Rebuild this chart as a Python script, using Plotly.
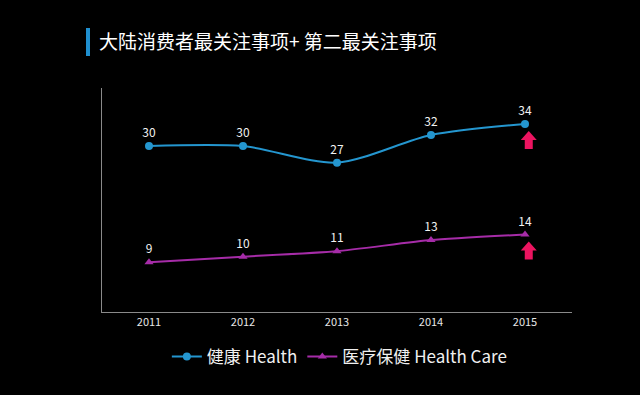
import plotly.graph_objects as go

years = ["2011", "2012", "2013", "2014", "2015"]
health = [30, 30, 27, 32, 34]
health_care = [9, 10, 11, 13, 14]
name_health = "健康 Health"
name_care = "医疗保健 Health Care"
title_text = "大陆消费者最关注事项+ 第二最关注事项"

BLUE = "#2496cf"
PURPLE = "#a62ca8"
ARROW = "#ec1460"
FONT = "Noto Sans CJK SC, Noto Sans, sans-serif"

W, H = 640, 395
L, R, T, B = 102, 68, 88, 83
pw, ph = W - L - R, H - T - B

def px_x(p):
    return (p - L) / pw

def px_y(p):
    return (H - B - p) / ph

fig = go.Figure()
fig.add_trace(go.Scatter(
    x=years, y=health, name=name_health, mode="lines+markers+text",
    line=dict(color=BLUE, width=2, shape="spline", smoothing=0.8),
    marker=dict(symbol="circle", size=8, color=BLUE),
    text=[str(v) for v in health], textposition="top center",
    textfont=dict(color="#f2f2f2", size=12, family=FONT),
))
fig.add_trace(go.Scatter(
    x=years, y=health_care, name=name_care, mode="lines+markers+text",
    line=dict(color=PURPLE, width=2, shape="spline", smoothing=0.5),
    marker=dict(symbol="triangle-up", size=8, color=PURPLE),
    text=[str(v) for v in health_care], textposition="top center",
    textfont=dict(color="#f2f2f2", size=12, family=FONT),
))

# up arrows beside the 2015 points
arrow_path = "M-4,-25 L4,-25 L4,-16 L8,-16 L0,-7 L-8,-16 L-4,-16 Z"
for v in (health[-1], health_care[-1]):
    fig.add_shape(type="path", xref="x", yref="y", xsizemode="pixel", ysizemode="pixel",
                  xanchor=4.04, yanchor=v, path=arrow_path,
                  fillcolor=ARROW, line=dict(width=0))

# title bar and title
fig.add_shape(type="rect", xref="paper", yref="paper",
              x0=px_x(86), x1=px_x(90), y0=px_y(56), y1=px_y(28),
              fillcolor="#1f8fcf", line=dict(width=0))
fig.add_annotation(xref="paper", yref="paper", x=px_x(97), y=px_y(41),
                   xanchor="left", yanchor="middle", showarrow=False,
                   text=title_text, font=dict(color="#ffffff", size=19, family=FONT))

fig.update_layout(
    width=W, height=H, margin=dict(l=L, r=R, t=T, b=B),
    paper_bgcolor="#000000", plot_bgcolor="#000000",
    showlegend=True,
    legend=dict(orientation="h", x=0.505, xanchor="center", y=px_y(357), yanchor="middle",
                font=dict(color="#f0f0f0", size=17, family=FONT), bgcolor="rgba(0,0,0,0)",
                itemwidth=30),
    xaxis=dict(type="category", range=[-0.5, 4.5], showgrid=False, zeroline=False,
               showline=True, linecolor="#8a8a8a", linewidth=1, ticks="",
               tickfont=dict(color="#e6e6e6", size=11, family=FONT)),
    yaxis=dict(range=[0, 40.5], showgrid=False, zeroline=False, showline=True,
               linecolor="#8a8a8a", linewidth=1, showticklabels=False, ticks=""),
)

fig.write_html("out.html", config={"displayModeBar": False})
with open("out.html", "r", encoding="utf-8") as f:
    html = f.read()
html = html.replace("<head>", "<head><style>html,body{margin:0;padding:0;background:#000;}</style>", 1)
with open("out.html", "w", encoding="utf-8") as f:
    f.write(html)
